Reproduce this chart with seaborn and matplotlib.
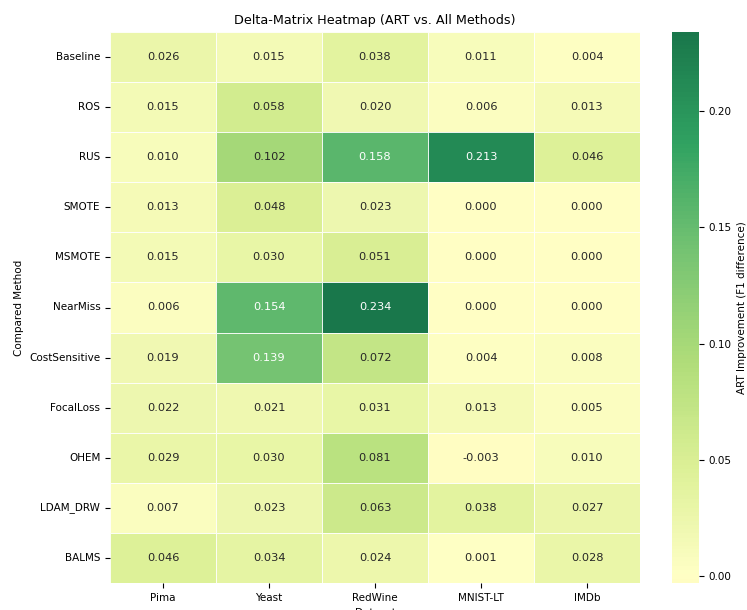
import matplotlib
matplotlib.use("Agg")
import matplotlib.pyplot as plt
import seaborn as sns
import numpy as np
import pandas as pd

# Datasets (columns) and compared methods (rows)
datasets = ["Pima", "Yeast", "RedWine", "MNIST-LT", "IMDb"]
methods = ["Baseline", "ROS", "RUS", "SMOTE", "MSMOTE", "NearMiss",
           "CostSensitive", "FocalLoss", "OHEM", "LDAM_DRW", "BALMS"]

# ART improvement (F1 difference) per dataset
pima = [0.026, 0.015, 0.010, 0.013, 0.015, 0.006, 0.019, 0.022, 0.029, 0.007, 0.046]
yeast = [0.015, 0.058, 0.102, 0.048, 0.030, 0.154, 0.139, 0.021, 0.030, 0.023, 0.034]
redwine = [0.038, 0.020, 0.158, 0.023, 0.051, 0.234, 0.072, 0.031, 0.081, 0.063, 0.024]
mnist_lt = [0.011, 0.006, 0.213, 0.000, 0.000, 0.000, 0.004, 0.013, -0.003, 0.038, 0.001]
imdb = [0.004, 0.013, 0.046, 0.000, 0.000, 0.000, 0.008, 0.005, 0.010, 0.027, 0.028]

df_delta = pd.DataFrame({"Pima": pima, "Yeast": yeast, "RedWine": redwine,
                         "MNIST-LT": mnist_lt, "IMDb": imdb}, index=methods)
df_delta = df_delta[datasets]

fig = plt.figure(figsize=(7.47, 6.10), dpi=100)
ax = fig.add_axes([110 / 747, 1 - 583 / 610, 530 / 747, 551 / 610])
cax = fig.add_axes([672 / 747, 1 - 583 / 610, 27 / 747, 551 / 610])

sns.heatmap(df_delta, annot=True, fmt=".3f", cmap="RdYlGn", center=0, alpha=0.9,
            linewidths=0.5, linecolor="white", ax=ax, cbar_ax=cax,
            annot_kws={"fontsize": 8.2})
cax.set_ylabel("ART Improvement (F1 difference)", fontsize=7.5)
cax.tick_params(labelsize=7.5)
ax.tick_params(labelsize=7.5)
ax.set_yticklabels(ax.get_yticklabels(), rotation=0)
ax.set_xlabel("Dataset", fontsize=7.5)
ax.set_ylabel("Compared Method", fontsize=7.5)
ax.set_title("Delta-Matrix Heatmap (ART vs. All Methods)", fontsize=9.2)

fig.savefig("out.png", dpi=100)
